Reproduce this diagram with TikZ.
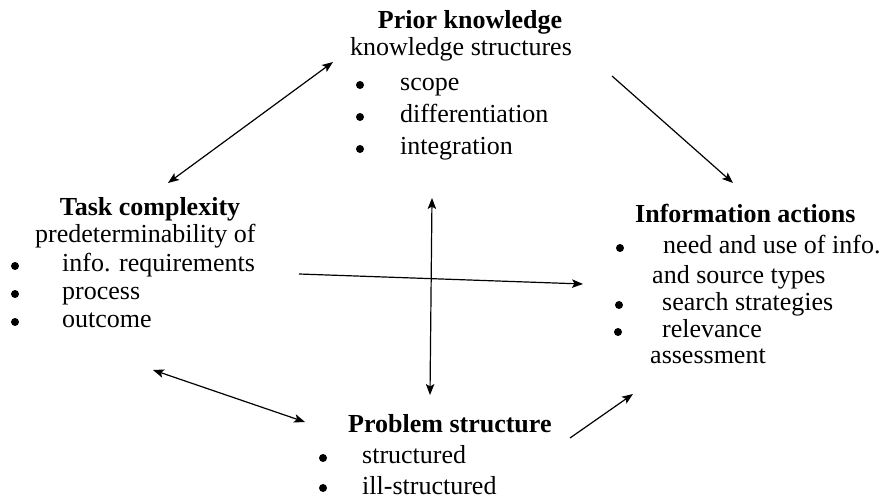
\documentclass[tikz,border=0pt]{standalone}
\usepackage{fontspec}
\setmainfont{Liberation Serif}
\usetikzlibrary{arrows.meta}
\begin{document}
\begin{tikzpicture}[x=1pt,y=-1pt,
  txt/.style={anchor=base west,inner sep=0pt,font=\fontsize{26}{29}\selectfont},
  head/.style={anchor=base,inner sep=0pt,font=\fontsize{26}{29}\selectfont\bfseries},
  headw/.style={anchor=base west,inner sep=0pt,font=\fontsize{26}{29}\selectfont\bfseries},
  dot/.style={circle,fill=black,inner sep=0pt,minimum size=8pt},
  tip/.tip={Stealth[length=11pt,width=8.5pt,inset=2.5pt]},
  link/.style={line width=1.2pt,-tip},
  link2/.style={line width=1.2pt,tip-tip}]
\useasboundingbox (0,0) rectangle (884,502);

% Prior knowledge
\node[head] (pk) at (470,29) {Prior knowledge};
\node[txt] (pk0) at (350,56) {knowledge structures};
\node[dot] (pkb1) at (360,85) {};
\node[txt] (pk1) at (400,91) {scope};
\node[dot] (pkb2) at (360,117) {};
\node[txt] (pk2) at (400,123) {differentiation};
\node[dot] (pkb3) at (360,149) {};
\node[txt] (pk3) at (400,155) {integration};

% Task complexity
\node[head] (tc) at (150,216) {Task complexity};
\node[txt] (tc0) at (35,243) {predeterminability of};
\node[dot] (tcb1) at (15,266) {};
\node[txt] (tc1) at (62,272) {info. requirements};
\node[dot] (tcb2) at (15,294) {};
\node[txt] (tc2) at (62,300) {process};
\node[dot] (tcb3) at (15,322) {};
\node[txt] (tc3) at (62,328) {outcome};

% Information actions
\node[headw] (ia) at (635,223) {Information actions};
\node[dot] (iab1) at (620,248) {};
\node[txt] (ia1) at (663,254) {need and use of info.};
\node[txt] (ia1b) at (652,284) {and source types};
\node[dot] (iab2) at (619,305) {};
\node[txt] (ia2) at (662,311) {search strategies};
\node[dot] (iab3) at (618,332) {};
\node[txt] (ia3) at (662,338) {relevance};
\node[txt] (ia3b) at (650,364) {assessment};

% Problem structure
\node[headw] (ps) at (348,433) {Problem structure};
\node[dot] (psb1) at (323,458) {};
\node[txt] (ps1) at (362,464) {structured};
\node[dot] (psb2) at (323,488) {};
\node[txt] (ps2) at (362,494) {ill-structured};

% arrow end points
\coordinate (a1) at (168,183);
\coordinate (a2) at (333,62);
\coordinate (b1) at (612,76);
\coordinate (b2) at (733,183);
\coordinate (c1) at (432,198);
\coordinate (c2) at (430,395);
\coordinate (d1) at (299,274);
\coordinate (d2) at (583,284);
\coordinate (e1) at (153,370);
\coordinate (e2) at (305,422);
\coordinate (f1) at (570,438);
\coordinate (f2) at (633,394);

\draw[link2] (a1) -- (a2);
\draw[link] (b1) -- (b2);
\draw[link2] (c1) -- (c2);
\draw[link] (d1) -- (d2);
\draw[link2] (e1) -- (e2);
\draw[link] (f1) -- (f2);
\end{tikzpicture}
\end{document}
